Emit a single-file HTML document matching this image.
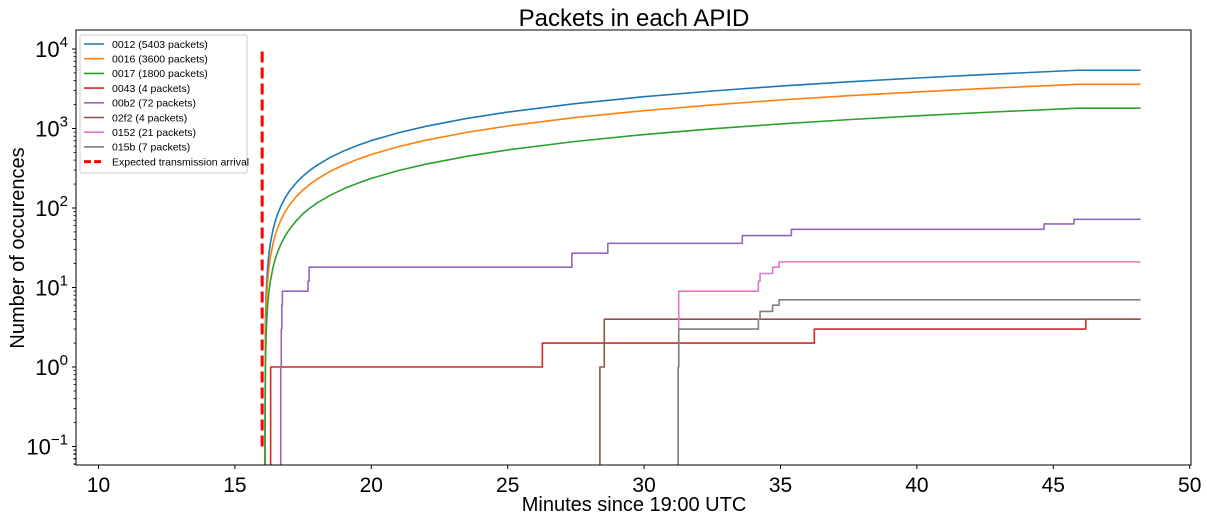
<!DOCTYPE html>
<html><head><meta charset="utf-8"><style>
html,body{margin:0;padding:0;background:#fff;}
svg{display:block;font-family:"Liberation Sans",Arial,sans-serif;}
</style></head><body>
<svg id="chart" width="1207" height="521" xmlns="http://www.w3.org/2000/svg">
<rect x="0" y="0" width="1207" height="521" fill="#fff"/>
<text x="634" y="26" font-size="24" text-anchor="middle" fill="#000">Packets in each APID</text>
<text x="634" y="511" font-size="20" text-anchor="middle" fill="#000">Minutes since 19:00 UTC</text>
<text x="0" y="0" font-size="20" text-anchor="middle" fill="#000" transform="translate(24,248) rotate(-90)">Number of occurences</text>
<g id="plot"></g>
<g id="axes"></g>
<g id="legend"></g>
</svg>
<script>
const xTicks=[10,15,20,25,30,35,40,45,50];
const yDecades=[-1,0,1,2,3,4];
const seriesNames=["0012 (5403 packets)","0016 (3600 packets)","0017 (1800 packets)","0043 (4 packets)","00b2 (72 packets)","02f2 (4 packets)","0152 (21 packets)","015b (7 packets)"];
const seriesColors=["#1f77b4","#ff7f0e","#2ca02c","#d62728","#9467bd","#8c564b","#e377c2","#7f7f7f"];
const tSmooth=[16.1,16.12,16.15,16.2,16.25,16.3,16.4,16.5,16.6,16.7,16.85,17,17.25,17.5,17.75,18,18.5,19,19.5,20,21,22,23.5,25,27.5,30,32.5,35,37.5,40,42.5,45.9,48.2];
const v0012=[0,3.6,9,18,27,36,54,72,90,108,136,163,208,253,298,343,434,524,614,705,885,1066,1337,1608,2060,2512,2963,3415,3867,4319,4770,5403,5403];
const v0016=[0,2.4,6,12,18,24,36,48,60,72,91,109,139,169,199,229,290,350,411,471,592,713,894,1075,1377,1679,1981,2283,2585,2887,3189,3600,3600];
const v0017=[0,1.2,3,6,9,12,18,24,30,36,45,54,69,85,100,115,145,175,205,236,296,356,447,538,689,840,991,1142,1293,1444,1595,1800,1800];
const t0043=[16.31,26.27,36.24,46.19,48.2];
const v0043=[1,2,3,4,4];
const t00b2=[16.68,16.7,16.72,16.74,17.68,17.72,27.35,28.67,33.6,35.4,44.66,45.76,48.2];
const v00b2=[1,3,6,9,12,18,27,36,45,54,63,72,72];
const t02f2=[28.38,28.54,48.2];
const v02f2=[1,4,4];
const t0152=[31.25,31.27,34.19,34.25,34.71,34.95,48.2];
const v0152=[1,9,12,15,18,21,21];
const t015b=[31.25,31.27,34.19,34.25,34.71,34.95,48.2];
const v015b=[1,3,4,5,6,7,7];
const expectedArrival=16.0;
const expectedRange=[0.1,9500];

const L=76,R=1191,T=30,B=465;
const X0=98.5,PXM=27.28;
const Y0=367,PXD=79.5;
function xs(t){return X0+(t-10)*PXM;}
function ys(v){if(v<=0)return B+5;return Y0-Math.log10(v)*PXD;}
const NS="http://www.w3.org/2000/svg";
function mk(tag,attrs,parent){const e=document.createElementNS(NS,tag);for(const k in attrs)e.setAttribute(k,attrs[k]);parent.appendChild(e);return e;}
const svg=document.getElementById('chart');
const defs=mk('defs',{},svg);
const cp=mk('clipPath',{id:'clip'},defs);
mk('rect',{x:L,y:T,width:R-L,height:B-T},cp);
const plot=document.getElementById('plot');
plot.setAttribute('clip-path','url(#clip)');

function smoothPath(ts,vs){let d='';ts.forEach((t,i)=>{d+=(i?'L':'M')+xs(t).toFixed(2)+','+ys(vs[i]).toFixed(2);});return d;}
function stepPath(ts,vs){let d='M'+xs(ts[0]).toFixed(2)+','+(B+5);let prev=null;ts.forEach((t,i)=>{const x=xs(t).toFixed(2);if(prev!==null)d+='L'+x+','+ys(prev).toFixed(2);d+='L'+x+','+ys(vs[i]).toFixed(2);prev=vs[i];});return d;}

const dashed=mk('line',{x1:xs(expectedArrival),x2:xs(expectedArrival),y1:ys(expectedRange[0]),y2:ys(expectedRange[1]),stroke:'#ff0000','stroke-width':3,'stroke-dasharray':'11,5'},plot);



const allSeries=[[tSmooth,v0012,0],[tSmooth,v0016,0],[tSmooth,v0017,0],[t0043,v0043,1],[t00b2,v00b2,1],[t02f2,v02f2,1],[t0152,v0152,1],[t015b,v015b,1]];
const ids=['0012','0016','0017','0043','00b2','02f2','0152','015b'];
allSeries.forEach((s,i)=>{
  const d=s[2]?stepPath(s[0],s[1]):smoothPath(s[0],s[1]);
  const p=mk('path',{d:d,fill:'none',stroke:seriesColors[i],'stroke-width':1.6,'stroke-linejoin':'round'},plot);
  
  
});

const axes=document.getElementById('axes');
const frame=mk('rect',{x:L,y:T,width:R-L,height:B-T,fill:'none',stroke:'#000','stroke-width':1},axes);


xTicks.forEach(t=>{
  const x=xs(t);
  mk('line',{x1:x,x2:x,y1:B,y2:B+4,stroke:'#000','stroke-width':1},axes);
  const tx=mk('text',{x:x,y:B+27,'font-size':21,'text-anchor':'middle',fill:'#000'},axes);
  tx.textContent=t;
  
  
});
yDecades.forEach(dv=>{
  const y=Y0-dv*PXD;
  mk('line',{x1:L-4,x2:L,y1:y,y2:y,stroke:'#000','stroke-width':1},axes);
  const tx=mk('text',{x:L-8,y:y+8,'font-size':22,'text-anchor':'end',fill:'#000'},axes);
  
  
  const s=dv<0?'\u2212'+(-dv):''+dv;
  tx.innerHTML='10<tspan dy="-10" font-size="15">'+s+'</tspan>';
  for(let m=2;m<10;m++){
    const yy=Y0-(dv+Math.log10(m))*PXD;
    if(yy>T&&yy<B)mk('line',{x1:L-2.5,x2:L,y1:yy,y2:yy,stroke:'#000','stroke-width':0.8},axes);
  }
  for(let m=6;m<10;m++){
    const yy=Y0-(-2+Math.log10(m))*PXD;
    if(yy>T&&yy<B)mk('line',{x1:L-2.5,x2:L,y1:yy,y2:yy,stroke:'#000','stroke-width':0.8},axes);
  }
});

const lg=document.getElementById('legend');
const box=mk('rect',{x:80,y:35,width:167,height:138,rx:2,fill:'#fff','fill-opacity':0.8,stroke:'#ccc','stroke-width':1},lg);


const labels=seriesNames.concat(['Expected transmission arrival']);
labels.forEach((n,i)=>{
  const y=44+i*14.7;
  const g=mk('g',{},lg);
  
  
  if(i<8)mk('line',{x1:84,x2:104,y1:y,y2:y,stroke:seriesColors[i],'stroke-width':1.6},g);
  else mk('line',{x1:84,x2:104,y1:y,y2:y,stroke:'#ff0000','stroke-width':3,'stroke-dasharray':'7,3'},g);
  const t=mk('text',{x:112,y:y+3.8,'font-size':10.5,fill:'#000'},g);
  t.textContent=n;
});
</script>
</body></html>
